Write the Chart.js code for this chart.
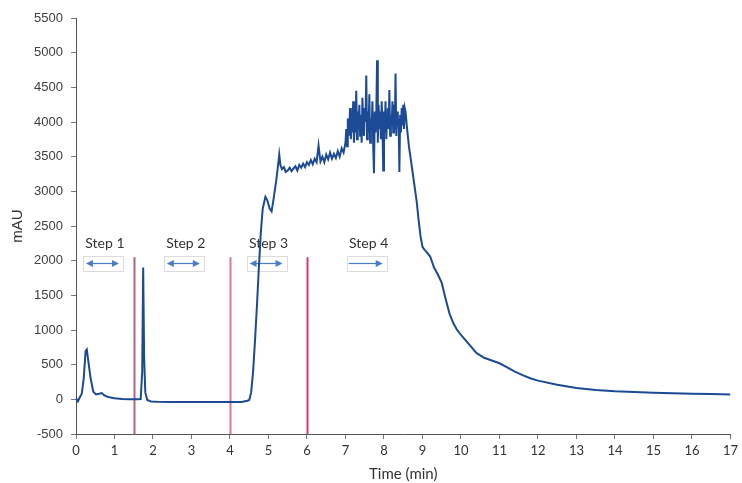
<!DOCTYPE html>
<html>
<head>
<meta charset="utf-8">
<script src="https://cdn.jsdelivr.net/npm/chart.js@4.4.1/dist/chart.umd.min.js"></script>
<style>
  html, body { margin: 0; padding: 0; background: #fff; }
  #wrap { width: 742px; height: 483px; }
</style>
</head>
<body>
<div id="wrap"><canvas id="chromChart" width="742" height="483"></canvas></div>
<script>
const times = [
    0, 0.05, 0.1, 0.15, 0.2, 0.25, 0.28, 0.32, 0.38, 0.45,
    0.52, 0.6, 0.67, 0.73, 0.8, 0.9, 1.0, 1.2, 1.4, 1.6,
    1.68, 1.72, 1.745, 1.77, 1.8, 1.85, 1.95, 2.1, 2.5, 3.0,
    3.5, 4.0, 4.3, 4.45,
    4.5, 4.55, 4.6, 4.65, 4.7, 4.75, 4.8, 4.85, 4.92, 4.97,
    5.03, 5.08, 5.13, 5.2, 5.25, 5.28, 5.31,
    5.35, 5.4, 5.45, 5.5, 5.55, 5.6, 5.65, 5.7, 5.75, 5.8,
    5.85, 5.9, 5.95, 6.0, 6.05, 6.1, 6.15, 6.2, 6.25, 6.3,
    6.35, 6.4, 6.45, 6.5, 6.55, 6.6, 6.65, 6.7, 6.75, 6.8,
    6.85, 6.9, 6.95,
    7.0, 7.02, 7.04, 7.06, 7.08, 7.1, 7.12, 7.14, 7.16, 7.18,
    7.2, 7.22, 7.24, 7.26, 7.28, 7.3, 7.32, 7.34, 7.36, 7.38,
    7.4, 7.42, 7.44, 7.46, 7.48, 7.5, 7.52, 7.54, 7.56, 7.58,
    7.6, 7.62, 7.64, 7.66, 7.68, 7.7, 7.72, 7.74, 7.76, 7.78,
    7.8, 7.82, 7.84, 7.86, 7.88, 7.9, 7.92, 7.94, 7.96, 7.98,
    8.0, 8.02, 8.04, 8.06, 8.08, 8.1, 8.12, 8.14, 8.16, 8.18,
    8.2, 8.22, 8.24, 8.26, 8.28, 8.3, 8.32, 8.34, 8.36, 8.38,
    8.4, 8.42, 8.44, 8.46, 8.48, 8.5, 8.52, 8.54, 8.56,
    8.6, 8.65, 8.7, 8.75, 8.8, 8.85, 8.9, 8.95, 9.0, 9.05,
    9.1, 9.2, 9.3, 9.4, 9.5, 9.6, 9.7, 9.8, 9.9, 10.0,
    10.2, 10.4, 10.6, 10.8, 11.0, 11.2, 11.4, 11.6, 11.8, 12.0,
    12.5, 13.0, 13.5, 14.0, 14.5, 15.0, 15.5, 16.0, 16.5, 17.0
];
const mau = [
    20, -30, 30, 80, 300, 700, 720, 550, 300, 110,
    70, 80, 90, 60, 40, 25, 15, 5, 0, 0,
    5, 400, 1900, 600, 100, -10, -30, -35, -38, -40,
    -40, -40, -38, -20,
    -10, 100, 400, 850, 1350, 1900, 2400, 2750, 2920, 2870,
    2750, 2710, 2880, 3150, 3380, 3530, 3380,
    3320, 3350, 3280, 3300, 3340, 3290, 3330, 3360, 3300, 3380,
    3340, 3400, 3350, 3420, 3380, 3450, 3390, 3470, 3420, 3660,
    3430, 3500, 3420, 3530, 3460, 3560, 3470, 3540, 3480, 3580,
    3500, 3620, 3560,
    3700, 3900, 3650, 4050, 3800, 3950, 4200, 3750, 4100, 3850,
    4300, 3700, 4000, 3850, 4450, 3750, 4150, 3900, 4250, 3800,
    4100, 3700, 4350, 3950, 3800, 4200, 4000, 4670, 3750, 4150,
    3850, 4400, 3700, 4050, 3900, 4300, 3650, 3260, 4150, 3850,
    4100, 4890, 3700, 4250, 3900, 4150, 3750, 4300, 3950, 3300,
    4150, 3850, 4300, 3750, 4050, 4200, 3900, 4460, 3800, 4100,
    3950, 4300, 3850, 4250, 3900, 4700, 3800, 4150, 3950, 4050,
    3280, 4100, 3850, 4200, 3950, 4250, 3900, 4200, 4150,
    3900, 3640, 3450, 3250, 3050, 2850, 2580, 2350, 2200, 2160,
    2130, 2060, 1900, 1800, 1680, 1450, 1240, 1100, 1000, 930,
    800, 670, 600, 560, 520, 460, 400, 350, 305, 270,
    210, 165, 135, 115, 105, 95, 88, 82, 76, 70
];

// Étapes du procédé
const stepNames = ['Step 1', 'Step 2', 'Step 3', 'Step 4'];
const stepCenters = [0.7, 2.8, 4.95, 7.55];
const stepTwoWay = [true, true, true, false];
const stepBoundaries = [1.5, 4, 6];

const points = times.map((t, i) => ({ x: t, y: mau[i] }));

const stepsPlugin = {
    id: 'steps',
    beforeDatasetsDraw(chart) {
        const ctx = chart.ctx;
        const xs = chart.scales.x;
        const ys = chart.scales.y;
        const lineColors = ['#b8607f', '#e07590', '#c8406a'];

        ctx.save();
        // lignes verticales
        stepBoundaries.forEach((b, i) => {
            const px = Math.round(xs.getPixelForValue(b)) + 0.5;
            ctx.strokeStyle = lineColors[i];
            ctx.lineWidth = 2;
            ctx.beginPath();
            ctx.moveTo(px, ys.getPixelForValue(2050));
            ctx.lineTo(px, ys.getPixelForValue(-500));
            ctx.stroke();
        });

        // étiquettes + flèches
        const textY = ys.getPixelForValue(2250);
        const boxY = ys.getPixelForValue(1960);
        stepNames.forEach((name, i) => {
            const cx = xs.getPixelForValue(stepCenters[i]);
            ctx.fillStyle = '#333';
            ctx.font = '14px Lato';
            ctx.textAlign = 'center';
            ctx.textBaseline = 'middle';
            ctx.fillText(name, cx + 2, textY);

            ctx.fillStyle = '#fff';
            ctx.strokeStyle = '#dcdcdc';
            ctx.lineWidth = 1;
            ctx.fillRect(Math.round(cx - 20) + 0.5, Math.round(boxY - 7) + 0.5, 40, 15);
            ctx.strokeRect(Math.round(cx - 20) + 0.5, Math.round(boxY - 7) + 0.5, 40, 15);

            const x0 = cx - 16, x1 = cx + 15;
            const ay = Math.round(boxY) + 0.5;
            ctx.strokeStyle = '#4a7cc6';
            ctx.fillStyle = '#4a7cc6';
            ctx.lineWidth = 1.2;
            ctx.beginPath();
            ctx.moveTo(stepTwoWay[i] ? x0 + 3 : x0 - 2, ay);
            ctx.lineTo(x1 - 3, ay);
            ctx.stroke();
            ctx.beginPath();
            ctx.moveTo(x1 + 1, ay);
            ctx.lineTo(x1 - 6, ay - 3.5);
            ctx.lineTo(x1 - 6, ay + 3.5);
            ctx.closePath();
            ctx.fill();
            if (stepTwoWay[i]) {
                ctx.beginPath();
                ctx.moveTo(x0 - 1, ay);
                ctx.lineTo(x0 + 6, ay - 3.5);
                ctx.lineTo(x0 + 6, ay + 3.5);
                ctx.closePath();
                ctx.fill();
            }
        });
        ctx.restore();
    }
};

document.addEventListener('DOMContentLoaded', () => {
    const ctx = document.getElementById('chromChart').getContext('2d');
    new Chart(ctx, {
        type: 'scatter',
        data: {
            datasets: [{
                label: 'mAU',
                data: points,
                showLine: true,
                borderColor: '#1c4a94',
                borderWidth: 2,
                pointRadius: 0,
                tension: 0
            }]
        },
        options: {
            responsive: false,
            animation: false,
            layout: { padding: { left: 0, right: 10, top: 18, bottom: 0 } },
            plugins: {
                legend: { display: false },
                tooltip: { enabled: false }
            },
            scales: {
                x: {
                    type: 'linear',
                    min: 0,
                    max: 17,
                    ticks: {
                        stepSize: 1,
                        padding: 4,
                        color: '#333',
                        maxRotation: 0,
                        font: { family: 'Lato', size: 13 }
                    },
                    grid: {
                        drawOnChartArea: false,
                        tickLength: 5,
                        color: '#777'
                    },
                    border: { color: '#555', width: 1 },
                    title: {
                        display: true,
                        text: 'Time (min)',
                        color: '#333',
                        font: { family: 'Lato', size: 15 },
                        padding: { top: 2, bottom: 0 }
                    },
                    afterFit(scale) { scale.height = 49; }
                },
                y: {
                    min: -500,
                    max: 5500,
                    ticks: {
                        stepSize: 500,
                        padding: 8,
                        color: '#404040',
                        font: { family: 'Liberation Sans', size: 13 },
                        callback: (v) => String(v)
                    },
                    grid: {
                        drawOnChartArea: false,
                        tickLength: 5,
                        color: '#777'
                    },
                    border: { color: '#555', width: 1 },
                    title: {
                        display: true,
                        text: 'mAU',
                        color: '#333',
                        font: { family: 'Liberation Sans', size: 15 },
                        padding: { top: 9, bottom: 0 }
                    },
                    afterFit(scale) { scale.width = 76; }
                }
            }
        },
        plugins: [stepsPlugin]
    });
});
</script>
</body>
</html>
